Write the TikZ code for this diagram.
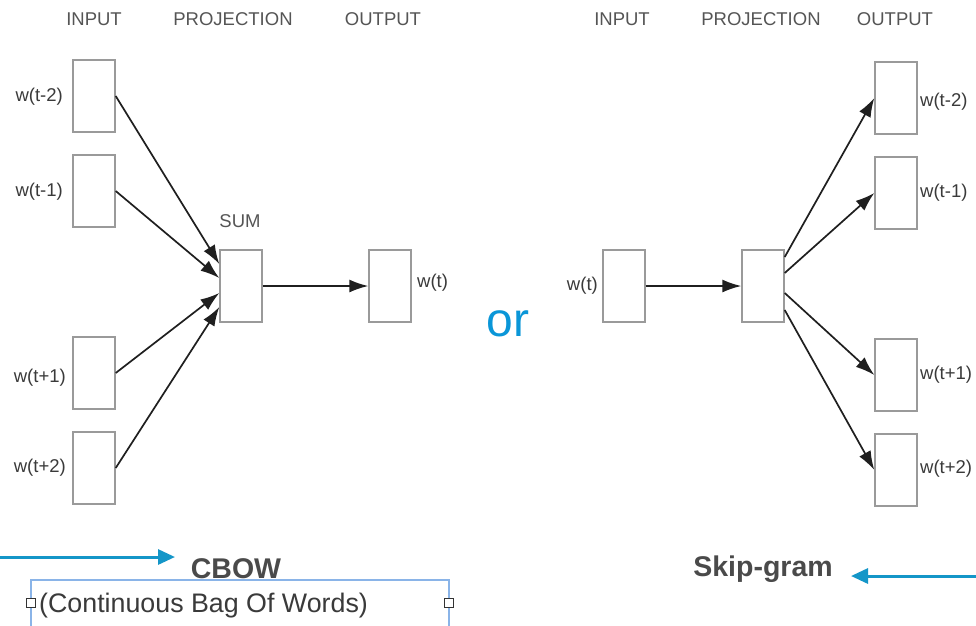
\documentclass[tikz,border=0pt]{standalone}
\usepackage{fontspec}
\setmainfont{Liberation Sans}
\usetikzlibrary{arrows.meta}
\definecolor{boxgray}{HTML}{9A9A9A}
\definecolor{headgray}{HTML}{555555}
\definecolor{labgray}{HTML}{3A3A3A}
\definecolor{titlegray}{HTML}{4A4A4A}
\definecolor{orblue}{HTML}{0A96D8}
\definecolor{pointblue}{HTML}{1496C8}
\definecolor{selblue}{HTML}{8AB4E8}
\tikzset{
  wordbox/.style={draw=boxgray, line width=1.4pt, fill=white, minimum width=42pt, minimum height=72pt, inner sep=0pt},
  header/.style={text=headgray, font=\fontsize{18.5}{20}\selectfont, inner sep=0pt},
  wlabel/.style={text=labgray, font=\fontsize{18.5}{20}\selectfont, inner sep=0pt},
  edge/.style={draw=black!88, line width=1.7pt, -{Latex[length=19pt,width=13pt]}},
  title/.style={text=titlegray, font=\fontsize{28.5}{30}\selectfont\bfseries, inner sep=0pt},
  pointer/.style={draw=pointblue, line width=3pt, -{Triangle[length=17pt,width=15pt]}},
  handle/.style={draw=black!80, line width=0.8pt, fill=white, minimum size=9pt, inner sep=0pt}
}
\begin{document}
\begin{tikzpicture}[x=1pt, y=-1pt]
\useasboundingbox (0,0) rectangle (976,625);
\fill[white] (0,0) rectangle (976,625);

% CBOW: headers
\node[header] (hin1) at (94,19) {INPUT};
\node[header] (hpr1) at (233,19) {PROJECTION};
\node[header] (hout1) at (383,19) {OUTPUT};

% CBOW: context words in, summed, predicted word out
\node[wordbox] (i1) at (94,96) {};
\node[wordbox] (i2) at (94,191) {};
\node[wordbox] (i3) at (94,373) {};
\node[wordbox] (i4) at (94,468) {};
\node[wordbox] (sum) at (241,286) {};
\node[wordbox] (out) at (390,286) {};

\node[wlabel, anchor=east] (li1) at (63,97) {w(t-2)};
\node[wlabel, anchor=east] (li2) at (63,192) {w(t-1)};
\node[wlabel, anchor=east] (li3) at (66,378) {w(t+1)};
\node[wlabel, anchor=east] (li4) at (66,468) {w(t+2)};
\node[header] (lsum) at (240,221) {SUM};
\node[wlabel, anchor=west] (lout) at (417,283) {w(t)};

\draw[edge] (i1.east) -- ([yshift=22pt]sum.west);
\draw[edge] (i2.east) -- ([yshift=8pt]sum.west);
\draw[edge] (i3.east) -- ([yshift=-7pt]sum.west);
\draw[edge] (i4.east) -- ([yshift=-21pt]sum.west);
\draw[edge] (sum.east) -- (out.west);

% Separator
\node[text=orblue, font=\fontsize{48}{50}\selectfont, inner sep=0pt] (or) at (508,324) {or};

% Skip-gram: headers
\node[header] (hin2) at (622,19) {INPUT};
\node[header] (hpr2) at (761,19) {PROJECTION};
\node[header] (hout2) at (895,19) {OUTPUT};

% Skip-gram: current word in, context words out
\node[wordbox] (ri) at (624,286) {};
\node[wordbox] (rp) at (763,286) {};
\node[wordbox] (o1) at (896,98) {};
\node[wordbox] (o2) at (896,193) {};
\node[wordbox] (o3) at (896,375) {};
\node[wordbox] (o4) at (896,470) {};

\node[wlabel, anchor=east] (lri) at (598,286) {w(t)};
\node[wlabel, anchor=west] (lo1) at (920,102) {w(t-2)};
\node[wlabel, anchor=west] (lo2) at (920,193) {w(t-1)};
\node[wlabel, anchor=west] (lo3) at (920,375) {w(t+1)};
\node[wlabel, anchor=west] (lo4) at (920,469) {w(t+2)};

\draw[edge] (ri.east) -- (rp.west);
\draw[edge] ([yshift=29pt]rp.east) -- (o1.west);
\draw[edge] ([yshift=13pt]rp.east) -- (o2.west);
\draw[edge] ([yshift=-7pt]rp.east) -- (o3.west);
\draw[edge] ([yshift=-24pt]rp.east) -- (o4.west);

% Titles with pointers
\node[title] (cbow) at (236,569) {CBOW};
\node[title] (skip) at (763,569) {Skip-gram};
\coordinate (pl) at (0,557);
\coordinate (pr) at (976,576);
\draw[pointer] (pl) -- (175,557) coordinate (plend);
\draw[pointer] (pr) -- (851,576) coordinate (prend);

% Selected text box with its handles
\draw[draw=selblue, line width=1.2pt] (31,630) -- (31,580) -- (449,580) -- (449,630);
\node[text=labgray, font=\fontsize{26.8}{28}\selectfont, anchor=west, inner sep=0pt] (sub) at (39,606) {(Continuous Bag Of Words)};
\node[handle] (h1) at (31,603) {};
\node[handle] (h2) at (449,603) {};
\end{tikzpicture}
\end{document}
